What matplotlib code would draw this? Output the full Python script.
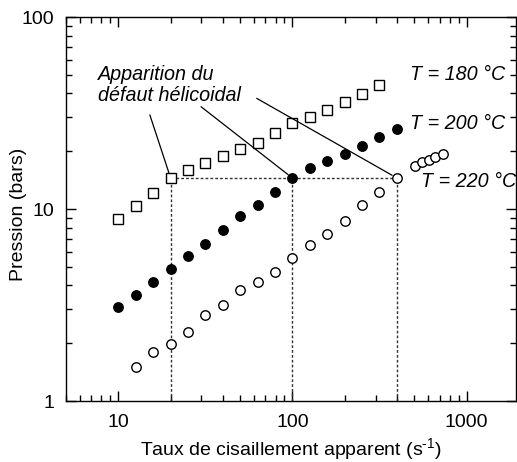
import matplotlib
matplotlib.use("Agg")
import matplotlib.pyplot as plt
import numpy as np

plt.rcParams['font.family'] = ['Liberation Sans', 'DejaVu Sans']
plt.rcParams['mathtext.fontset'] = 'custom'
plt.rcParams['mathtext.rm'] = 'Liberation Sans'
plt.rcParams['mathtext.it'] = 'Liberation Sans:italic'

# Shear rates (s^-1), 0.1-decade steps
rate_180 = [10, 12.6, 15.8, 20, 25.1, 31.6, 39.8, 50.1, 63.1, 79.4, 100, 126, 158, 200, 251, 316]
p_180 = [8.9, 10.4, 12.1, 14.5, 16.0, 17.3, 18.9, 20.5, 22.2, 24.8, 27.9, 30.0, 32.9, 36.0, 39.6, 44.4]

rate_200 = [10, 12.6, 15.8, 20, 25.1, 31.6, 39.8, 50.1, 63.1, 79.4, 100, 126, 158, 200, 251, 316, 398]
p_200 = [3.09, 3.58, 4.15, 4.89, 5.67, 6.57, 7.74, 9.16, 10.5, 12.2, 14.5, 16.4, 17.7, 19.4, 21.4, 23.7, 26.0]

rate_220 = [12.6, 15.8, 20, 25.1, 31.6, 39.8, 50.1, 63.1, 79.4, 100, 126, 158, 200, 251, 316, 398,
            507, 555, 605, 661, 728]
p_220 = [1.50, 1.80, 1.99, 2.30, 2.79, 3.17, 3.77, 4.19, 4.68, 5.56, 6.50, 7.38, 8.63, 10.5, 12.2, 14.5,
         16.8, 17.6, 18.0, 18.7, 19.3]

# Onset of the helical defect for each temperature
onset_rate = [20, 100, 398]
onset_p = 14.5

# Start points of the leader lines under the "Apparition..." label
leader_start_x = [15.2, 29.9, 62.4]
leader_start_y = [30.9, 34.1, 37.7]

fig = plt.figure(figsize=(5.17, 4.62), dpi=100)
ax = fig.add_axes([0.1271, 0.1320, 0.871, 0.8312])
ax.set_xscale('log')
ax.set_yscale('log')
ax.set_xlim(5, 1920)
ax.set_ylim(1, 100)

ms = 6.8
ax.plot(rate_180, p_180, 's', ms=ms, mfc='white', mec='black', mew=1.0, zorder=3)
ax.plot(rate_200, p_200, 'o', ms=ms, mfc='black', mec='black', mew=1.0, zorder=3)
ax.plot(rate_220, p_220, 'o', ms=ms, mfc='white', mec='black', mew=1.0, zorder=3)

dot = (0, (2.0, 1.5))
ax.plot([onset_rate[0], onset_rate[-1]], [onset_p, onset_p], color='#333333', lw=1.0, ls=dot, zorder=2)
for r in onset_rate:
    ax.plot([r, r], [1, onset_p], color='#333333', lw=1.0, ls=dot, zorder=2)

for sx, sy, r in zip(leader_start_x, leader_start_y, onset_rate):
    ax.annotate('', xy=(r, onset_p), xytext=(sx, sy),
                arrowprops=dict(arrowstyle='-', color='black', lw=0.9,
                                shrinkA=0, shrinkB=4))

fs = 14.2
ax.text(7.66, 49.9, 'Apparition du', fontsize=fs, style='italic', va='center', ha='left')
ax.text(7.66, 38.8, 'défaut hélicoidal', fontsize=fs, style='italic', va='center', ha='left')
ax.text(474, 49.9, 'T = 180 °C', fontsize=fs, style='italic', va='center', ha='left')
ax.text(474, 28.0, 'T = 200 °C', fontsize=fs, style='italic', va='center', ha='left')
ax.text(548, 13.9, 'T = 220 °C', fontsize=fs, style='italic', va='center', ha='left')

ax.set_xticks([10, 100, 1000])
ax.set_xticklabels(['10', '100', '1000'])
ax.set_yticks([1, 10, 100])
ax.set_yticklabels(['1', '10', '100'])
ax.tick_params(which='both', direction='in', top=True, right=True, labelsize=14, width=1.0)
ax.tick_params(which='major', length=7)
ax.tick_params(which='minor', length=4)
ax.tick_params(axis='x', which='major', pad=9)
ax.tick_params(axis='y', which='major', pad=8)

ax.set_xlabel('Taux de cisaillement apparent (s$^{\\text{-1}}$)', fontsize=14, labelpad=4)
ax.set_ylabel('Pression (bars)', fontsize=14)
ax.yaxis.set_label_coords(-0.086, 0.487)

for s in ax.spines.values():
    s.set_linewidth(1.0)

fig.savefig('out.png', dpi=100)
